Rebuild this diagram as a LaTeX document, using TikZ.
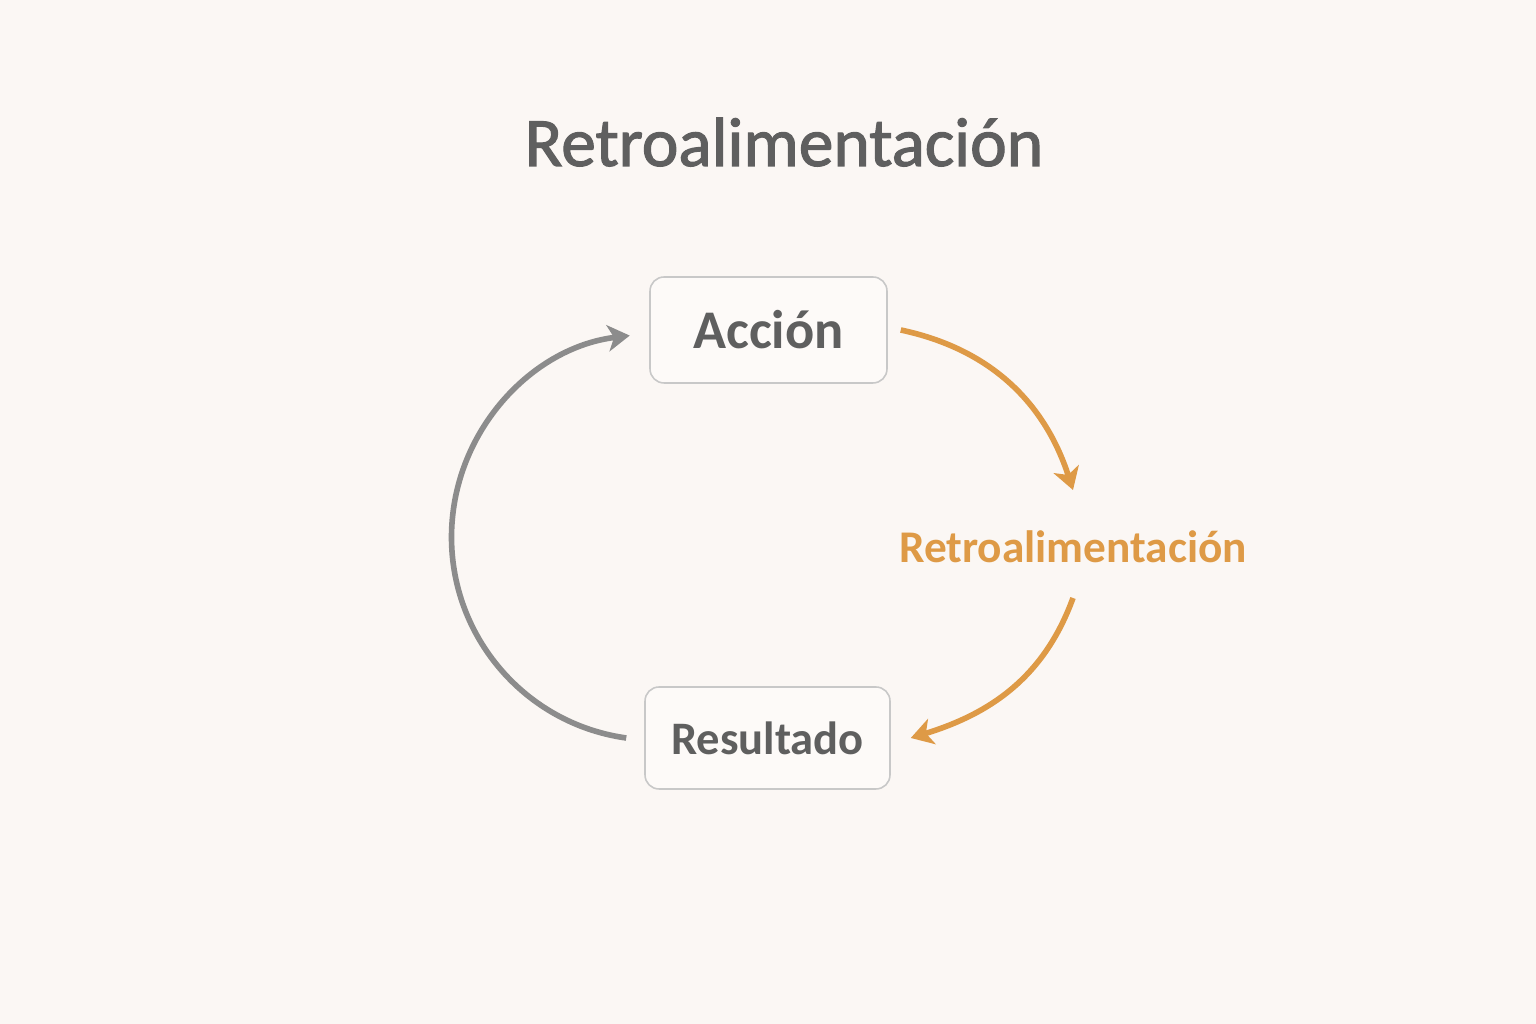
\documentclass[tikz,border=0pt]{standalone}
\usepackage{fontspec}
\setmainfont{Carlito}
\newfontfamily\titlefont[FakeBold=1.6]{Carlito}
\usetikzlibrary{arrows.meta}
\definecolor{bgpaper}{HTML}{FBF7F4}
\definecolor{inkgray}{HTML}{5F5F5F}
\definecolor{linegray}{HTML}{8C8C8C}
\definecolor{boxline}{HTML}{C8C8C8}
\definecolor{fborange}{HTML}{DE9A46}

\begin{document}
\begin{tikzpicture}[x=0.02cm,y=0.02cm,
  stagebox/.style={draw=boxline,line width=0.9pt,rounded corners=0.28cm,fill=bgpaper!60!white,text=inkgray},
  cyclearrow/.style={line width=3.2pt,-{Stealth[length=12.5pt,width=15pt,inset=3.5pt]}}]
  % Background
  \fill[bgpaper] (0,0) rectangle (1536,1024);
  \useasboundingbox (0,0) rectangle (1536,1024);

  % Title
  \node[text=inkgray,font=\titlefont\fontsize{39.5}{44}\selectfont,anchor=base] (title) at (784,858) {Retroalimentación};

  % Boxes
  \node[stagebox,minimum width=4.74cm,minimum height=2.12cm,font=\bfseries\fontsize{31}{36}\selectfont] (act) at (768.5,694) {Acción};
  \node[stagebox,minimum width=4.9cm,minimum height=2.04cm,font=\bfseries\fontsize{26.5}{30}\selectfont] (res) at (767.5,286) {Resultado};
  \node[text=fborange,font=\bfseries\fontsize{25.8}{30}\selectfont] (fb) at (1073,477) {Retroalimentación};

  % Arrows
  \draw[cyclearrow,linegray] ([xshift=-0.36cm]res.west) arc[start angle=262,end angle=97,radius=4.06cm];
  \draw[cyclearrow,fborange] ([xshift=0.26cm]act.east) to[out=-12,in=108] ([yshift=1.14cm]fb.center);
  \draw[cyclearrow,fborange] ([yshift=-1.02cm]fb.center) to[out=-110,in=17] ([xshift=0.4cm]res.east);
\end{tikzpicture}
\end{document}
